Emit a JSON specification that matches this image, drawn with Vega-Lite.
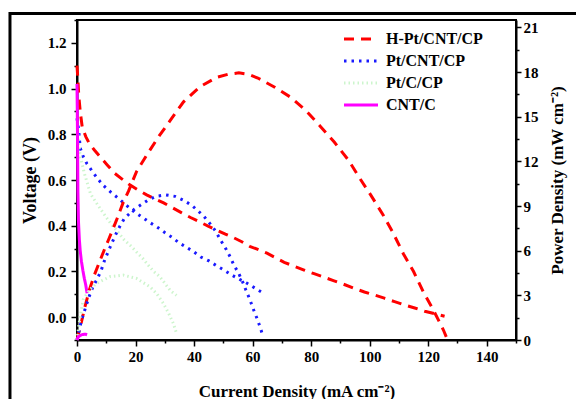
{
  "$schema": "https://vega.github.io/schema/vega-lite/v6.json",
  "width": 439,
  "height": 320,
  "autosize": {"type": "none"},
  "padding": {"left": 77, "top": 20, "right": 60, "bottom": 59},
  "background": "white",
  "config": {
    "view": {"stroke": "black", "strokeWidth": 2},
    "font": "Liberation Serif",
    "axis": {
      "labelFont": "Liberation Serif", "labelFontWeight": "bold", "labelFontSize": 15, "labelColor": "black",
      "titleFont": "Liberation Serif", "titleFontWeight": "bold", "titleFontSize": 17, "titleColor": "black",
      "domainColor": "black", "domainWidth": 2, "tickColor": "black", "tickWidth": 1.5,
      "grid": false, "labelOverlap": false, "labelBound": false, "labelFlush": false
    }
  },
  "datasets": {
    "pol": [
      {"s":"H-Pt/CNT/CP","I":0,"V":1.10},{"s":"H-Pt/CNT/CP","I":0.3,"V":1.04},{"s":"H-Pt/CNT/CP","I":0.6,"V":0.97},{"s":"H-Pt/CNT/CP","I":1.1,"V":0.90},{"s":"H-Pt/CNT/CP","I":1.8,"V":0.83},{"s":"H-Pt/CNT/CP","I":3,"V":0.79},{"s":"H-Pt/CNT/CP","I":4.2,"V":0.76},{"s":"H-Pt/CNT/CP","I":6,"V":0.73},{"s":"H-Pt/CNT/CP","I":8,"V":0.70},{"s":"H-Pt/CNT/CP","I":10.4,"V":0.665},{"s":"H-Pt/CNT/CP","I":12.8,"V":0.63},{"s":"H-Pt/CNT/CP","I":15.3,"V":0.605},{"s":"H-Pt/CNT/CP","I":17.9,"V":0.58},{"s":"H-Pt/CNT/CP","I":20.8,"V":0.557},{"s":"H-Pt/CNT/CP","I":23.8,"V":0.535},{"s":"H-Pt/CNT/CP","I":26.7,"V":0.517},{"s":"H-Pt/CNT/CP","I":29.6,"V":0.50},{"s":"H-Pt/CNT/CP","I":32.7,"V":0.478},{"s":"H-Pt/CNT/CP","I":35.8,"V":0.456},{"s":"H-Pt/CNT/CP","I":38.8,"V":0.436},{"s":"H-Pt/CNT/CP","I":41.9,"V":0.417},{"s":"H-Pt/CNT/CP","I":44.8,"V":0.398},{"s":"H-Pt/CNT/CP","I":47.8,"V":0.38},{"s":"H-Pt/CNT/CP","I":50.7,"V":0.363},{"s":"H-Pt/CNT/CP","I":53.6,"V":0.347},{"s":"H-Pt/CNT/CP","I":56.3,"V":0.33},{"s":"H-Pt/CNT/CP","I":59,"V":0.31},{"s":"H-Pt/CNT/CP","I":62,"V":0.295},{"s":"H-Pt/CNT/CP","I":64.9,"V":0.28},{"s":"H-Pt/CNT/CP","I":67.8,"V":0.26},{"s":"H-Pt/CNT/CP","I":70.8,"V":0.24},{"s":"H-Pt/CNT/CP","I":74.2,"V":0.223},{"s":"H-Pt/CNT/CP","I":77.6,"V":0.206},{"s":"H-Pt/CNT/CP","I":81,"V":0.19},{"s":"H-Pt/CNT/CP","I":84.4,"V":0.175},{"s":"H-Pt/CNT/CP","I":87.6,"V":0.16},{"s":"H-Pt/CNT/CP","I":90.9,"V":0.145},{"s":"H-Pt/CNT/CP","I":94.5,"V":0.127},{"s":"H-Pt/CNT/CP","I":98.2,"V":0.11},{"s":"H-Pt/CNT/CP","I":101.6,"V":0.097},{"s":"H-Pt/CNT/CP","I":105,"V":0.083},{"s":"H-Pt/CNT/CP","I":108.5,"V":0.068},{"s":"H-Pt/CNT/CP","I":112,"V":0.053},{"s":"H-Pt/CNT/CP","I":115.4,"V":0.04},{"s":"H-Pt/CNT/CP","I":118.8,"V":0.026},{"s":"H-Pt/CNT/CP","I":122.2,"V":0.015},{"s":"H-Pt/CNT/CP","I":125.6,"V":0.004},
      {"s":"Pt/CNT/CP","I":0,"V":0.87},{"s":"Pt/CNT/CP","I":0.4,"V":0.835},{"s":"Pt/CNT/CP","I":0.7,"V":0.80},{"s":"Pt/CNT/CP","I":1.1,"V":0.74},{"s":"Pt/CNT/CP","I":2.1,"V":0.703},{"s":"Pt/CNT/CP","I":3.4,"V":0.671},{"s":"Pt/CNT/CP","I":5.1,"V":0.64},{"s":"Pt/CNT/CP","I":7.1,"V":0.605},{"s":"Pt/CNT/CP","I":9.1,"V":0.575},{"s":"Pt/CNT/CP","I":11.7,"V":0.545},{"s":"Pt/CNT/CP","I":14.3,"V":0.518},{"s":"Pt/CNT/CP","I":17.1,"V":0.487},{"s":"Pt/CNT/CP","I":19.6,"V":0.46},{"s":"Pt/CNT/CP","I":22.3,"V":0.437},{"s":"Pt/CNT/CP","I":24.9,"V":0.414},{"s":"Pt/CNT/CP","I":27.6,"V":0.392},{"s":"Pt/CNT/CP","I":30,"V":0.37},{"s":"Pt/CNT/CP","I":32.6,"V":0.348},{"s":"Pt/CNT/CP","I":34.8,"V":0.326},{"s":"Pt/CNT/CP","I":37.1,"V":0.308},{"s":"Pt/CNT/CP","I":40,"V":0.285},{"s":"Pt/CNT/CP","I":42.3,"V":0.263},{"s":"Pt/CNT/CP","I":45.1,"V":0.246},{"s":"Pt/CNT/CP","I":47.8,"V":0.224},{"s":"Pt/CNT/CP","I":50.2,"V":0.206},{"s":"Pt/CNT/CP","I":52.9,"V":0.184},{"s":"Pt/CNT/CP","I":55.3,"V":0.167},{"s":"Pt/CNT/CP","I":58,"V":0.149},{"s":"Pt/CNT/CP","I":60.8,"V":0.127},{"s":"Pt/CNT/CP","I":63.6,"V":0.105},
      {"s":"Pt/C/CP","I":0.3,"V":0.80},{"s":"Pt/C/CP","I":0.6,"V":0.75},{"s":"Pt/C/CP","I":1.2,"V":0.70},{"s":"Pt/C/CP","I":2.5,"V":0.63},{"s":"Pt/C/CP","I":4.6,"V":0.54},{"s":"Pt/C/CP","I":6.6,"V":0.50},{"s":"Pt/C/CP","I":9,"V":0.455},{"s":"Pt/C/CP","I":11.5,"V":0.41},{"s":"Pt/C/CP","I":13.5,"V":0.38},{"s":"Pt/C/CP","I":16,"V":0.34},{"s":"Pt/C/CP","I":18.5,"V":0.31},{"s":"Pt/C/CP","I":20.7,"V":0.28},{"s":"Pt/C/CP","I":22.6,"V":0.255},{"s":"Pt/C/CP","I":24.5,"V":0.225},{"s":"Pt/C/CP","I":26.2,"V":0.2},{"s":"Pt/C/CP","I":28.3,"V":0.177},{"s":"Pt/C/CP","I":30.2,"V":0.145},{"s":"Pt/C/CP","I":32,"V":0.115},{"s":"Pt/C/CP","I":34,"V":0.095},
      {"s":"CNT/C","I":0,"V":1.02},{"s":"CNT/C","I":0.1,"V":0.9},{"s":"CNT/C","I":0.2,"V":0.75},{"s":"CNT/C","I":0.3,"V":0.55},{"s":"CNT/C","I":0.5,"V":0.42},{"s":"CNT/C","I":0.8,"V":0.34},{"s":"CNT/C","I":1.1,"V":0.29},{"s":"CNT/C","I":1.5,"V":0.245},{"s":"CNT/C","I":2,"V":0.205},{"s":"CNT/C","I":2.5,"V":0.17},{"s":"CNT/C","I":3,"V":0.14},{"s":"CNT/C","I":3.45,"V":0.105}
    ],
    "pow": [
      {"s":"H-Pt/CNT/CP","I":0,"P":0},{"s":"H-Pt/CNT/CP","I":0.8,"P":0.67},{"s":"H-Pt/CNT/CP","I":1.5,"P":1.2},{"s":"H-Pt/CNT/CP","I":2.8,"P":2.3},{"s":"H-Pt/CNT/CP","I":4.2,"P":3.35},{"s":"H-Pt/CNT/CP","I":6,"P":4.4},{"s":"H-Pt/CNT/CP","I":7.6,"P":5.2},{"s":"H-Pt/CNT/CP","I":9.2,"P":6.0},{"s":"H-Pt/CNT/CP","I":10.7,"P":6.7},{"s":"H-Pt/CNT/CP","I":13.5,"P":8.05},{"s":"H-Pt/CNT/CP","I":15.9,"P":9.3},{"s":"H-Pt/CNT/CP","I":17.6,"P":10.0},{"s":"H-Pt/CNT/CP","I":20.3,"P":11.3},{"s":"H-Pt/CNT/CP","I":24.4,"P":12.6},{"s":"H-Pt/CNT/CP","I":28.2,"P":13.75},{"s":"H-Pt/CNT/CP","I":32.4,"P":14.9},{"s":"H-Pt/CNT/CP","I":36.4,"P":16.0},{"s":"H-Pt/CNT/CP","I":41.9,"P":17.0},{"s":"H-Pt/CNT/CP","I":47.8,"P":17.65},{"s":"H-Pt/CNT/CP","I":51.5,"P":17.85},{"s":"H-Pt/CNT/CP","I":55.3,"P":17.95},{"s":"H-Pt/CNT/CP","I":58.5,"P":17.85},{"s":"H-Pt/CNT/CP","I":61.8,"P":17.6},{"s":"H-Pt/CNT/CP","I":67.4,"P":17.0},{"s":"H-Pt/CNT/CP","I":73.1,"P":16.3},{"s":"H-Pt/CNT/CP","I":78.3,"P":15.4},{"s":"H-Pt/CNT/CP","I":83.4,"P":14.3},{"s":"H-Pt/CNT/CP","I":87.9,"P":13.3},{"s":"H-Pt/CNT/CP","I":92.7,"P":12.1},{"s":"H-Pt/CNT/CP","I":96.5,"P":10.9},{"s":"H-Pt/CNT/CP","I":100.5,"P":9.7},{"s":"H-Pt/CNT/CP","I":104.6,"P":8.4},{"s":"H-Pt/CNT/CP","I":108,"P":7.2},{"s":"H-Pt/CNT/CP","I":111.5,"P":5.8},{"s":"H-Pt/CNT/CP","I":115,"P":4.6},{"s":"H-Pt/CNT/CP","I":118.4,"P":3.2},{"s":"H-Pt/CNT/CP","I":121.8,"P":2.0},{"s":"H-Pt/CNT/CP","I":125.2,"P":0.67},{"s":"H-Pt/CNT/CP","I":126.2,"P":0.2},
      {"s":"Pt/CNT/CP","I":0,"P":0},{"s":"Pt/CNT/CP","I":0.7,"P":0.6},{"s":"Pt/CNT/CP","I":1.5,"P":1.3},{"s":"Pt/CNT/CP","I":2.3,"P":1.8},{"s":"Pt/CNT/CP","I":3.2,"P":2.35},{"s":"Pt/CNT/CP","I":4.3,"P":3.0},{"s":"Pt/CNT/CP","I":5.5,"P":3.6},{"s":"Pt/CNT/CP","I":6.9,"P":4.1},{"s":"Pt/CNT/CP","I":8.3,"P":4.7},{"s":"Pt/CNT/CP","I":9.5,"P":5.4},{"s":"Pt/CNT/CP","I":10.8,"P":6.0},{"s":"Pt/CNT/CP","I":12.1,"P":6.6},{"s":"Pt/CNT/CP","I":13.5,"P":7.2},{"s":"Pt/CNT/CP","I":14.8,"P":7.7},{"s":"Pt/CNT/CP","I":16.3,"P":8.2},{"s":"Pt/CNT/CP","I":18,"P":8.5},{"s":"Pt/CNT/CP","I":19.7,"P":8.8},{"s":"Pt/CNT/CP","I":22,"P":9.1},{"s":"Pt/CNT/CP","I":24.3,"P":9.4},{"s":"Pt/CNT/CP","I":27.2,"P":9.66},{"s":"Pt/CNT/CP","I":30.4,"P":9.75},{"s":"Pt/CNT/CP","I":33.5,"P":9.65},{"s":"Pt/CNT/CP","I":36.3,"P":9.4},{"s":"Pt/CNT/CP","I":39.2,"P":9.05},{"s":"Pt/CNT/CP","I":41.5,"P":8.65},{"s":"Pt/CNT/CP","I":43.4,"P":8.3},{"s":"Pt/CNT/CP","I":45.5,"P":7.8},{"s":"Pt/CNT/CP","I":47.4,"P":7.3},{"s":"Pt/CNT/CP","I":49.1,"P":6.7},{"s":"Pt/CNT/CP","I":50.8,"P":6.15},{"s":"Pt/CNT/CP","I":52.3,"P":5.6},{"s":"Pt/CNT/CP","I":53.7,"P":5.0},{"s":"Pt/CNT/CP","I":55.2,"P":4.5},{"s":"Pt/CNT/CP","I":56.6,"P":3.9},{"s":"Pt/CNT/CP","I":57.7,"P":3.36},{"s":"Pt/CNT/CP","I":59.1,"P":2.7},{"s":"Pt/CNT/CP","I":60.2,"P":2.1},{"s":"Pt/CNT/CP","I":61.5,"P":1.45},{"s":"Pt/CNT/CP","I":62.6,"P":0.85},{"s":"Pt/CNT/CP","I":63.6,"P":0.22},
      {"s":"Pt/C/CP","I":0,"P":0},{"s":"Pt/C/CP","I":0.8,"P":1.2},{"s":"Pt/C/CP","I":2.1,"P":2.7},{"s":"Pt/C/CP","I":4,"P":3.3},{"s":"Pt/C/CP","I":6.6,"P":3.8},{"s":"Pt/C/CP","I":11.2,"P":4.25},{"s":"Pt/C/CP","I":15.8,"P":4.36},{"s":"Pt/C/CP","I":20.3,"P":4.14},{"s":"Pt/C/CP","I":24.9,"P":3.58},{"s":"Pt/C/CP","I":27.3,"P":3.1},{"s":"Pt/C/CP","I":29.5,"P":2.46},{"s":"Pt/C/CP","I":31.3,"P":1.8},{"s":"Pt/C/CP","I":32.9,"P":1.12},{"s":"Pt/C/CP","I":34,"P":0.45},
      {"s":"CNT/C","I":0,"P":0},{"s":"CNT/C","I":0.3,"P":0.16},{"s":"CNT/C","I":0.6,"P":0.24},{"s":"CNT/C","I":1,"P":0.29},{"s":"CNT/C","I":1.5,"P":0.34},{"s":"CNT/C","I":2,"P":0.37},{"s":"CNT/C","I":2.5,"P":0.39},{"s":"CNT/C","I":3,"P":0.38},{"s":"CNT/C","I":3.45,"P":0.35}
    ]
  },
  "layer": [
    {
      "data": {"values": [{"frame": 1}]},
      "mark": {"type": "rect", "filled": false, "stroke": "black", "strokeWidth": 3, "clip": false},
      "encoding": {
        "x": {"datum": -22.9, "type": "quantitative", "scale": {"domain": [0, 150], "nice": false}},
        "x2": {"datum": 260},
        "y": {"datum": 1.3284, "type": "quantitative", "scale": {"domain": [-0.1, 1.3], "nice": false}, "axis": null},
        "y2": {"datum": -0.6}
      }
    },
    {
      "data": {"name": "pol"},
      "mark": {"type": "line", "strokeCap": "butt"},
      "encoding": {
        "x": {"field": "I", "type": "quantitative", "scale": {"domain": [0, 150], "nice": false}},
        "y": {
          "field": "V", "type": "quantitative",
          "scale": {"domain": [-0.1, 1.3], "nice": false},
          "axis": {
            "orient": "left",
            "values": [-0.1,0,0.1,0.2,0.3,0.4,0.5,0.6,0.7,0.8,0.9,1.0,1.1,1.2,1.3],
            "labelExpr": "round(datum.value*10) % 2 === 0 ? format(datum.value, '.1f') : ''",
            "tickSize": {"condition": {"test": "round(datum.value*10) % 2 === 0", "value": 6}, "value": 3},
            "labelPadding": 5,
            "title": "Voltage (V)",
            "titleFontSize": 18,
            "titlePadding": 8
          }
        },
        "color": {
          "field": "s", "type": "nominal",
          "scale": {"domain": ["H-Pt/CNT/CP", "Pt/CNT/CP", "Pt/C/CP", "CNT/C"], "range": ["#ff0000", "#1a1aff", "#cdf5cd", "#ff00ff"]},
          "legend": {
            "orient": "none", "legendX": 274, "legendY": 9, "title": null,
            "labelFont": "Liberation Serif", "labelFontWeight": "bold", "labelFontSize": 16, "labelColor": "black",
            "symbolType": "M-2,0H2", "symbolSize": 289, "rowPadding": 4, "labelOffset": 15,
            "labelExpr": "datum.label === 'Pt/CNT/CP' ? ' Pt/CNT/CP' : datum.label"
          }
        },
        "strokeDash": {
          "field": "s", "type": "nominal",
          "scale": {"domain": ["H-Pt/CNT/CP", "Pt/CNT/CP", "Pt/C/CP", "CNT/C"], "range": [[10, 7], [2.5, 5], [1.5, 3], [1, 0]]}
        },
        "strokeWidth": {
          "field": "s", "type": "nominal",
          "scale": {"domain": ["H-Pt/CNT/CP", "Pt/CNT/CP", "Pt/C/CP", "CNT/C"], "range": [3, 3, 1.2, 2.5]}
        }
      }
    },
    {
      "data": {"name": "pow"},
      "mark": {"type": "line", "strokeCap": "butt"},
      "encoding": {
        "x": {"field": "I", "type": "quantitative", "scale": {"domain": [0, 150], "nice": false}},
        "y": {
          "field": "P", "type": "quantitative",
          "scale": {"domain": [0, 21.5], "nice": false},
          "axis": {
            "orient": "right",
            "values": [0,1.5,3,4.5,6,7.5,9,10.5,12,13.5,15,16.5,18,19.5,21],
            "labelExpr": "round(datum.value*2) % 6 === 0 ? format(datum.value, 'd') : ''",
            "tickSize": {"condition": {"test": "round(datum.value*2) % 6 === 0", "value": 5}, "value": 3},
            "labelPadding": 2,
            "title": "Power Density (mW cm⁻²)",
            "titleAngle": 270,
            "titleBaseline": "top",
            "titlePadding": 11
          }
        },
        "color": {"field": "s", "type": "nominal", "scale": {"domain": ["H-Pt/CNT/CP", "Pt/CNT/CP", "Pt/C/CP", "CNT/C"], "range": ["#ff0000", "#1a1aff", "#cdf5cd", "#ff00ff"]}},
        "strokeDash": {"field": "s", "type": "nominal", "scale": {"domain": ["H-Pt/CNT/CP", "Pt/CNT/CP", "Pt/C/CP", "CNT/C"], "range": [[10, 7], [2.5, 5], [1.5, 3], [1, 0]]}},
        "strokeWidth": {"field": "s", "type": "nominal", "scale": {"domain": ["H-Pt/CNT/CP", "Pt/CNT/CP", "Pt/C/CP", "CNT/C"], "range": [3, 3, 1.2, 2.5]}}
      }
    }
  ],
  "encoding": {
    "x": {
      "type": "quantitative",
      "axis": {
        "values": [0,10,20,30,40,50,60,70,80,90,100,110,120,130,140,150],
        "labelExpr": "datum.value % 20 === 0 ? datum.label : ''",
        "tickSize": {"condition": {"test": "datum.value % 20 === 0", "value": 6}, "value": 3},
        "labelPadding": 3,
        "title": "Current Density (mA cm⁻²)",
        "titlePadding": 19
      }
    }
  },
  "resolve": {"scale": {"y": "independent"}, "axis": {"y": "independent"}}
}
